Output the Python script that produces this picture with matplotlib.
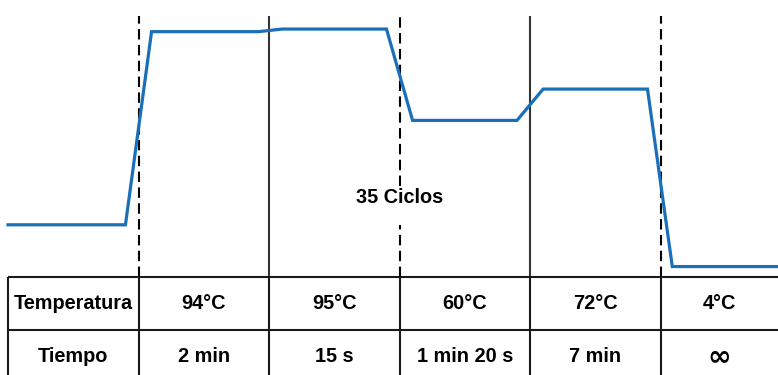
import matplotlib.pyplot as plt

# perfil de temperatura (x en unidades de columna de la tabla, y en °C)
tiempo = [0.0, 0.9, 1.1, 1.92, 2.1, 2.9, 3.1, 3.9, 4.1, 4.9, 5.09, 5.9]
temp = [20, 20, 94, 94, 95, 95, 60, 60, 72, 72, 4, 4]

etiquetas_fila = ['Temperatura', 'Tiempo']
temperaturas = ['94°C', '95°C', '60°C', '72°C', '4°C']
tiempos = ['2 min', '15 s', '1 min 20 s', '7 min', '∞']
divisiones = [1, 2, 3, 4, 5]
discontinuas = [True, False, True, False, True]
ciclos = '35 Ciclos'


def main():
    plt.rcParams['font.family'] = ['Liberation Sans', 'DejaVu Sans']
    fig = plt.figure(figsize=(7.78, 3.75), dpi=100)

    W, H = 778, 375
    x0 = 8
    xmax = 5.9
    fs = 14.3
    # perfil
    ax = fig.add_axes([x0 / W, (H - 277) / H, (W - x0) / W, 261 / H])
    ax.set_xlim(0, xmax)
    ax.set_ylim(0, 100)
    ax.axis('off')

    for x, d in zip(divisiones, discontinuas):
        if d:
            kw = dict(color='black', lw=1.5, linestyle=(0, (5, 2.6)))
        else:
            kw = dict(color='#333333', lw=1.5)
        if x == 3:
            ax.axvline(x, 0.0, 0.20, **kw)
            ax.axvline(x, 0.35, 1.0, **kw)
        else:
            ax.axvline(x, 0, 1, **kw)

    ax.plot(tiempo, temp, color='#1a70b8', lw=2.3, solid_joinstyle='miter',
            clip_on=False)
    ax.text(3, 30.3, ciclos, ha='center', va='center', fontsize=fs,
            fontweight='bold')

    # tabla
    tb = fig.add_axes([x0 / W, -8 / H, (W - x0) / W, 106 / H])
    tb.set_xlim(0, xmax)
    tb.set_ylim(0, 2)
    tb.axis('off')
    tb.hlines([2, 1], 0, xmax, color='#1a1a1a', lw=1.5, clip_on=False)
    tb.vlines([0] + divisiones, 0, 2, color='#1a1a1a', lw=1.5, clip_on=False)

    centros = [0.5, 1.5, 2.5, 3.5, 4.5, (5 + xmax) / 2]
    filas = [etiquetas_fila[0:1] + temperaturas, etiquetas_fila[1:2] + tiempos]
    for yc, fila in zip([1.5, 0.5], filas):
        for xc, txt in zip(centros, fila):
            if txt == '∞':
                tb.text(xc, yc, txt, ha='center', va='center', fontsize=fs + 6,
                        fontweight='bold', family=['DejaVu Sans'])
            else:
                tb.text(xc, yc, txt, ha='center', va='center', fontsize=fs,
                        fontweight='bold')

    fig.savefig('out.png', dpi=100)


if __name__ == '__main__':
    main()
